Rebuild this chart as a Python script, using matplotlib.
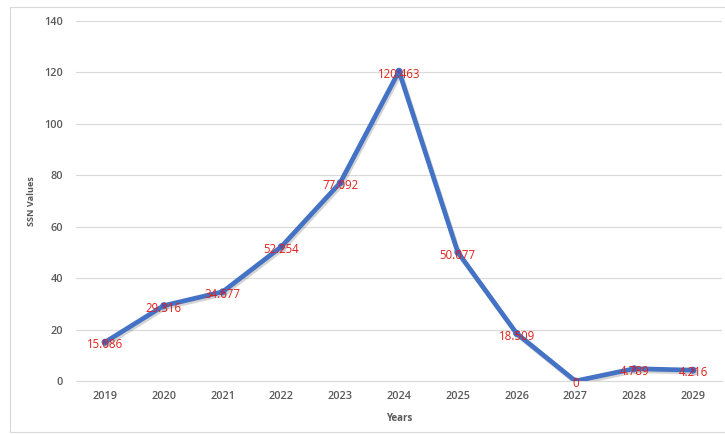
import matplotlib
matplotlib.use('Agg')
import matplotlib.pyplot as plt
import matplotlib.patheffects as pe
from matplotlib.patches import Rectangle

# -- data --
years = ['2019', '2020', '2021', '2022', '2023', '2024', '2025', '2026', '2027', '2028', '2029']
ssn_values = [15.086, 29.316, 34.677, 52.254, 77.092, 120.463, 50.077, 18.509, 0, 4.789, 4.216]
y_ticks = [0, 20, 40, 60, 80, 100, 120, 140]

plt.rcParams['font.family'] = ['Open Sans', 'DejaVu Sans']

fig = plt.figure(figsize=(7.25, 4.34), dpi=100)
ax = fig.add_axes([0.1043, 0.1221, 0.8921, 0.8295])

# outer chart border
fig.patches.append(Rectangle((10 / 725, 2 / 434), 720 / 725, 425 / 434, transform=fig.transFigure,
                             fill=False, edgecolor='#d9d9d9', linewidth=0.8))

x = list(range(len(years)))
ax.plot(x, ssn_values, color='#4472c4', linewidth=3.4, solid_joinstyle='round',
        marker='o', markersize=4, markerfacecolor='#5b4fa8', markeredgecolor='#4472c4',
        path_effects=[pe.SimpleLineShadow(offset=(1, -1.5), alpha=0.25, shadow_color='#555555'), pe.Normal()],
        zorder=3)

for xi, v in zip(x, ssn_values):
    ax.annotate(f'{v:g}', (xi, v), xytext=(0, -2), textcoords='offset points',
                ha='center', va='center', color='#e0201c', fontsize=8.3, zorder=4)

ax.set_xlim(-0.5, len(years) - 0.5)
ax.set_ylim(0, 140)
ax.set_yticks(y_ticks)
ax.set_xticks(x)
ax.set_xticklabels(years)
ax.grid(axis='y', color='#d9d9d9', linewidth=0.8)
ax.set_axisbelow(True)
for s in ['top', 'right', 'left']:
    ax.spines[s].set_visible(False)
ax.spines['bottom'].set_color('#d9d9d9')
ax.tick_params(axis='both', length=0, labelsize=7.8, labelcolor='#595959')
ax.tick_params(axis='x', pad=7)
ax.tick_params(axis='y', pad=9)
for lbl in ax.get_xticklabels() + ax.get_yticklabels():
    lbl.set_fontweight('semibold')

ax.set_xlabel('Years', fontsize=7, fontweight='bold', color='#595959', labelpad=8)
ax.set_ylabel('SSN Values', fontsize=6.6, fontweight='bold', color='#595959', labelpad=6)

plt.savefig('out.png', dpi=100)
